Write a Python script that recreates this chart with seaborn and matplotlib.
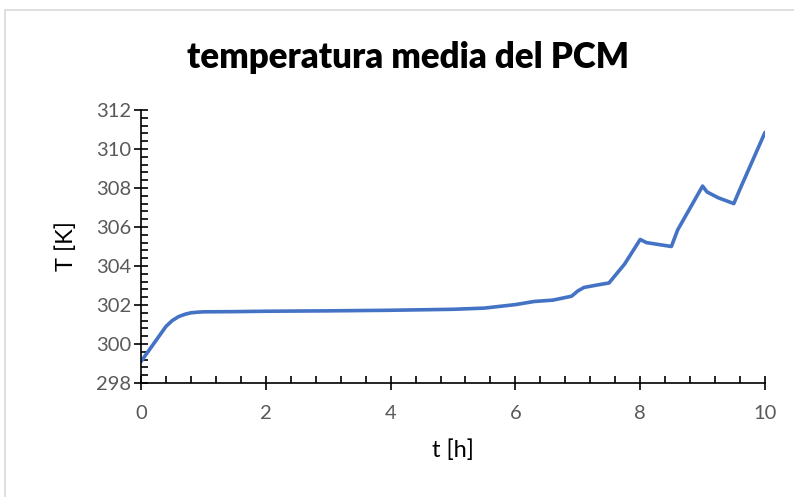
import numpy as np
import pandas as pd
import seaborn as sns
from matplotlib import pyplot as plt
from matplotlib.patches import Rectangle
from matplotlib.ticker import MultipleLocator

# datos
tiempo_h = [0, 0.1, 0.2, 0.3, 0.4, 0.5, 0.6, 0.7, 0.8, 0.9, 1.0, 1.5, 2, 3, 4, 5, 5.5,
            6, 6.3, 6.6, 6.9, 7.0, 7.1, 7.3, 7.5, 7.75, 8.0, 8.1, 8.5, 8.6, 9.0, 9.07,
            9.25, 9.5, 9.6, 10.0]
temp_k = [299.1, 299.55, 300.0, 300.45, 300.9, 301.2, 301.4, 301.52, 301.6, 301.63,
          301.65, 301.66, 301.68, 301.7, 301.73, 301.78, 301.84, 302.02, 302.18, 302.25,
          302.45, 302.72, 302.9, 303.02, 303.13, 304.1, 305.36, 305.2, 305.0, 305.85,
          308.1, 307.8, 307.5, 307.2, 307.95, 310.85]

titulo = "temperatura media del PCM"
etiqueta_x = "t [h]"
etiqueta_y = "T [K]"

df = pd.DataFrame({"t": tiempo_h, "T": temp_k})

sns.set_style("white")
plt.rcParams['font.family'] = ['Lato', 'DejaVu Sans']

fig = plt.figure(figsize=(7.94, 4.97), dpi=100)
ax = fig.add_axes([141 / 794, 1 - 383 / 497, (765 - 141) / 794, (383 - 110) / 497])

sns.lineplot(data=df, x="t", y="T", ax=ax, color="#4472C4", linewidth=2.6)

ax.set_xlim(0, 10)
ax.set_ylim(298, 312)
ax.xaxis.set_major_locator(MultipleLocator(2))
ax.xaxis.set_minor_locator(MultipleLocator(0.4))
ax.yaxis.set_major_locator(MultipleLocator(2))
ax.yaxis.set_minor_locator(MultipleLocator(0.4))

for lado in ["top", "right"]:
    ax.spines[lado].set_visible(False)
for lado in ["left", "bottom"]:
    ax.spines[lado].set_color("black")
    ax.spines[lado].set_linewidth(1.2)

ax.tick_params(axis="x", which="both", bottom=True, top=False)
ax.tick_params(axis="y", which="both", left=True, right=False)
ax.tick_params(which="major", direction="inout", length=10, width=1.2, color="black",
               labelsize=14.5, labelcolor="#595959")
ax.tick_params(which="minor", direction="in", length=5, width=1.2, color="black")
ax.tick_params(axis="x", which="major", pad=11)
ax.tick_params(axis="y", which="major", pad=2)

ax.set_xlabel(etiqueta_x, fontsize=17, color="black", labelpad=12)
ax.set_ylabel(etiqueta_y, fontsize=17, color="black", labelpad=14)
fig.text(408 / 794, 1 - 58 / 497, titulo, fontsize=25, fontweight="heavy",
         ha="center", va="center", color="black")

# borde del area del grafico
fig.patches.append(Rectangle((5 / 794, -0.1), 1, 1.1 - 10 / 497, transform=fig.transFigure,
                             fill=False, edgecolor="#D9D9D9", linewidth=1.2))

fig.savefig("out.png", dpi=100)
